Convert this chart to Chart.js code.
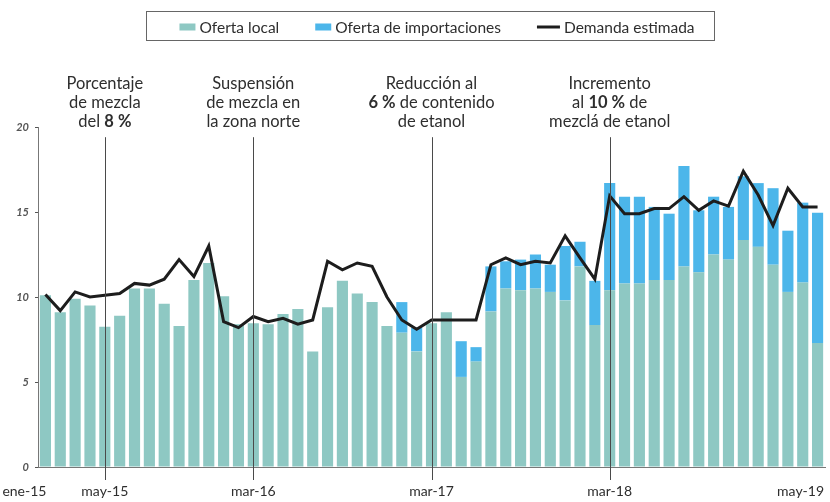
<!DOCTYPE html>
<html lang="es">
<head>
<meta charset="utf-8">
<title>Oferta y demanda de etanol</title>
<script src="https://cdn.jsdelivr.net/npm/chart.js@4.4.0/dist/chart.umd.min.js"></script>
<style>
  html,body{margin:0;padding:0;background:#fff;}
  #wrap{width:830px;height:502px;position:relative;}
</style>
</head>
<body>
<div id="wrap"><canvas id="chart"></canvas></div>
<script>
/* ---------- datos ---------- */
const months = [
  'ene-15','feb-15','mar-15','abr-15','may-15','jun-15','jul-15','ago-15','sep-15','oct-15','nov-15','dic-15',
  'ene-16','feb-16','mar-16','abr-16','may-16','jun-16','jul-16','ago-16','sep-16','oct-16','nov-16','dic-16',
  'ene-17','feb-17','mar-17','abr-17','may-17','jun-17','jul-17','ago-17','sep-17','oct-17','nov-17','dic-17',
  'ene-18','feb-18','mar-18','abr-18','may-18','jun-18','jul-18','ago-18','sep-18','oct-18','nov-18','dic-18',
  'ene-19','feb-19','mar-19','abr-19','may-19'
];
const ofertaLocal = [
  10.1, 9.1, 9.9, 9.5, 8.25, 8.9, 10.5, 10.5, 9.6, 8.3, 11.0, 12.0,
  10.05, 8.4, 8.45, 8.4, 9.0, 9.3, 6.8, 9.4, 10.95, 10.2, 9.7, 8.3,
  7.9, 6.8, 8.45, 9.1, 5.3, 6.2, 9.15, 10.5, 10.4, 10.5, 10.3, 9.8,
  11.8, 8.35, 10.4, 10.8, 10.8, 11.0, 11.0, 11.8, 11.45, 12.5, 12.2, 13.35,
  12.95, 11.9, 10.3, 10.85, 7.3
];
const ofertaImportaciones = [
  0, 0, 0, 0, 0, 0, 0, 0, 0, 0, 0, 0,
  0, 0, 0, 0, 0, 0, 0, 0, 0, 0, 0, 0,
  1.8, 1.4, 0, 0, 2.1, 0.85, 2.65, 1.6, 1.8, 2.0, 1.6, 3.2,
  1.45, 2.6, 6.3, 5.1, 5.1, 4.3, 3.9, 5.9, 3.65, 3.4, 3.1, 3.75,
  3.75, 4.5, 3.6, 4.7, 7.65
];
const demandaEstimada = [
  10.15, 9.2, 10.3, 10.0, 10.1, 10.2, 10.8, 10.7, 11.05, 12.2, 11.2, 13.0,
  8.55, 8.2, 8.85, 8.55, 8.75, 8.4, 8.65, 12.1, 11.6, 12.0, 11.8, 10.0,
  8.65, 8.1, 8.65, 8.65, 8.65, 8.65, 11.9, 12.3, 11.9, 12.1, 12.0, 13.6,
  12.3, 11.05, 15.95, 14.9, 14.9, 15.2, 15.2, 15.9, 15.1, 15.65, 15.35, 17.4,
  16.0, 14.2, 16.4, 15.3, 15.3
];
const xLabels = ['ene-15','may-15','mar-16','mar-17','mar-18','may-19'];
const yTicks = [0, 5, 10, 15, 20];

// hitos: cada línea es una lista de [texto, negrita]
const events = [
  {month:'may-15', lines:[[['Porcentaje',0]],[['de mezcla',0]],[['del ',0],['8 %',1]]]},
  {month:'mar-16', lines:[[['Suspensión',0]],[['de mezcla en',0]],[['la zona norte',0]]]},
  {month:'mar-17', lines:[[['Reducción al',0]],[['6 %',1],[' de contenido',0]],[['de etanol',0]]]},
  {month:'mar-18', lines:[[['Incremento',0]],[['al ',0],['10 %',1],[' de',0]],[['mezclá de etanol',0]]]}
];

const FONT = 'Lato, "Open Sans", sans-serif';
const TXT = '#2e2e2e';

/* ---------- capa de textos, hitos y leyenda ---------- */
const overlay = {
  id:'overlay',
  afterDatasetsDraw(chart){
    const {ctx, chartArea, scales:{x, y}} = chart;
    ctx.save();

    // líneas verticales de hitos
    ctx.strokeStyle = '#4a4a4a';
    ctx.lineWidth = 1;
    events.forEach(ev=>{
      const px = Math.round(x.getPixelForValue(months.indexOf(ev.month))) + 0.5;
      ctx.beginPath();
      ctx.moveTo(px, y.getPixelForValue(19.4));
      ctx.lineTo(px, chartArea.bottom + 13);
      ctx.stroke();
    });

    // textos de hitos
    ctx.fillStyle = TXT;
    ctx.textBaseline = 'middle';
    ctx.textAlign = 'left';
    events.forEach(ev=>{
      const cx = x.getPixelForValue(months.indexOf(ev.month));
      ev.lines.forEach((parts, li)=>{
        let w = 0;
        parts.forEach(([t,b])=>{ ctx.font = (b?'bold ':'') + '16.5px ' + FONT; w += ctx.measureText(t).width; });
        let px = cx - w/2;
        const py = chartArea.top - 43 + li*19;
        parts.forEach(([t,b])=>{
          ctx.font = (b?'bold ':'') + '16.5px ' + FONT;
          ctx.fillText(t, px, py);
          px += ctx.measureText(t).width;
        });
      });
    });

    // etiquetas del eje x
    const shift = {'ene-15':-21, 'may-19':-17};
    ctx.font = '14px ' + FONT;
    ctx.textAlign = 'center';
    xLabels.forEach(l=>{
      const px = x.getPixelForValue(months.indexOf(l)) + (shift[l] || 0);
      ctx.fillText(l, px, chartArea.bottom + 24);
    });
    ctx.restore();
  },
  afterDraw(chart){
    const {ctx} = chart;
    const ds = chart.data.datasets;
    ctx.save();
    ctx.font = '15.5px ' + FONT;
    ctx.textBaseline = 'middle';
    ctx.textAlign = 'left';
    const items = [ds[1], ds[2], ds[0]];
    const sw = 16, lw = 23, gapTxt = 4, gapItem = 36, cy = 27;
    let total = 0;
    items.forEach((d,i)=>{ total += (d.type==='line'?lw:sw) + gapTxt + ctx.measureText(d.label).width + (i<items.length-1?gapItem:0); });
    let px = 437 - total/2;
    const start = px;
    items.forEach(d=>{
      if(d.type==='line'){
        ctx.strokeStyle = d.borderColor; ctx.lineWidth = 3;
        ctx.beginPath(); ctx.moveTo(px, cy); ctx.lineTo(px+lw, cy); ctx.stroke();
        px += lw;
      } else {
        ctx.fillStyle = d.backgroundColor;
        ctx.fillRect(px, cy-3.5, sw, 7);
        px += sw;
      }
      px += gapTxt;
      ctx.fillStyle = TXT;
      ctx.fillText(d.label, px, cy+1);
      px += ctx.measureText(d.label).width + gapItem;
    });
    const end = px - gapItem;
    ctx.strokeStyle = '#666'; ctx.lineWidth = 1;
    ctx.strokeRect(Math.round(start-33)+0.5, 11.5, Math.round(end-start+53), 29);
    ctx.restore();
  }
};

new Chart(document.getElementById('chart'), {
  data:{
    labels:months,
    datasets:[
      {
        type:'line',
        label:'Demanda estimada',
        data:demandaEstimada,
        borderColor:'#1d1d1d',
        borderWidth:3,
        pointRadius:0,
        tension:0,
        stack:'demanda',
        order:0
      },
      {
        type:'bar',
        label:'Oferta local',
        data:ofertaLocal,
        backgroundColor:'#8ec8c3',
        stack:'oferta',
        categoryPercentage:1,
        barPercentage:0.75,
        order:1
      },
      {
        type:'bar',
        label:'Oferta de importaciones',
        data:ofertaImportaciones,
        backgroundColor:'#4cb6ea',
        stack:'oferta',
        categoryPercentage:1,
        barPercentage:0.75,
        order:1
      }
    ]
  },
  options:{
    responsive:true,
    maintainAspectRatio:false,
    animation:false,
    layout:{padding:{top:127, right:5, bottom:0, left:0}},
    plugins:{legend:{display:false}, tooltip:{enabled:false}},
    scales:{
      x:{
        stacked:true,
        grid:{display:false},
        border:{color:'#777', width:1},
        ticks:{display:false},
        afterFit:s=>{ s.height = 35; }
      },
      y:{
        stacked:true,
        min:0, max:20,
        afterBuildTicks:s=>{ s.ticks = yTicks.map(v=>({value:v})); },
        grid:{drawOnChartArea:false, tickLength:3, color:'#555'},
        border:{color:'#777', width:1},
        ticks:{
          padding:6,
          color:'#555',
          font:{family:FONT, size:11, style:'italic', weight:'bold'}
        },
        afterFit:s=>{ s.width = 38; }
      }
    }
  },
  plugins:[overlay]
});
</script>
</body>
</html>
